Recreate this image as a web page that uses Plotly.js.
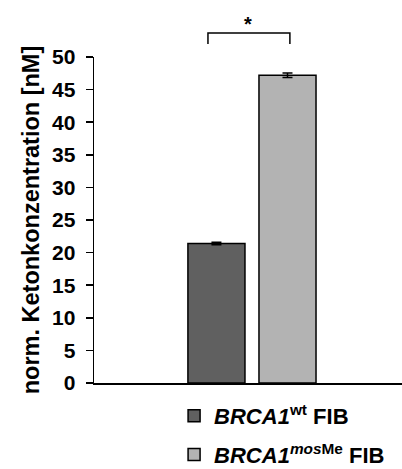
<!DOCTYPE html>
<html>
<head>
<meta charset="utf-8">
<script src="https://cdn.plot.ly/plotly-3.0.1.min.js"></script>
<style>html,body{margin:0;padding:0;background:#fff;}#chart{width:402px;height:469px;}</style>
</head>
<body>
<div id="chart"></div>
<script>
const categories = ['FIB'];
const seriesNames = ['<b><i>BRCA1</i><sup>wt</sup> FIB</b>', '<b><i>BRCA1<sup>mos</sup></i><sup>Me</sup> FIB</b>'];
const wtValues = [21.4];
const wtErrors = [0.2];
const mosValues = [47.2];
const mosErrors = [0.35];
const yTickVals = [0, 5, 10, 15, 20, 25, 30, 35, 40, 45, 50];
const yTickText = yTickVals.map(v => '<b>' + v + '</b>\u00a0');
const yTitle = '<b>norm. Ketonkonzentration [nM]</b>';
const sigLabel = '<b>*</b>';

const FONT = 'Liberation Sans, Arial, sans-serif';

const traces = [
  {
    type: 'bar', x: categories, y: wtValues, name: seriesNames[0], legendgroup: 'a',
    marker: {color: '#606060', line: {color: '#000', width: 1.5}},
    error_y: {type: 'data', array: wtErrors, color: '#000', thickness: 1.5, width: 5}
  },
  {
    type: 'bar', x: categories, y: mosValues, name: seriesNames[1], legendgroup: 'b',
    marker: {color: '#b3b3b3', line: {color: '#000', width: 1.5}},
    error_y: {type: 'data', array: mosErrors, color: '#000', thickness: 1.5, width: 5}
  }
];

const layout = {
  width: 402, height: 469,
  margin: {l: 94, r: 0, t: 57, b: 86, pad: 0, autoexpand: false},
  paper_bgcolor: '#fff', plot_bgcolor: '#fff',
  font: {family: FONT, color: '#000', size: 20},
  barmode: 'group', bargap: 0.445, bargroupgap: 0.197,
  showlegend: true,
  legend: {
    orientation: 'v', x: 0.26, xanchor: 'left', y: -0.0368, yanchor: 'top',
    font: {family: FONT, size: 22, color: '#000'},
    tracegroupgap: 7, bgcolor: 'rgba(0,0,0,0)'
  },
  xaxis: {
    type: 'category', range: [-0.617, 0.586], showticklabels: false,
    ticks: '', showline: true, linecolor: '#000', linewidth: 1.5,
    showgrid: false, zeroline: false, fixedrange: true
  },
  yaxis: {
    range: [0, 50], tickvals: yTickVals, ticktext: yTickText, ticks: 'outside', ticklen: 7,
    tickwidth: 1.5, tickcolor: '#000', showline: true, linecolor: '#000', linewidth: 1.5,
    showgrid: false, zeroline: false, automargin: false,
    tickfont: {family: FONT, size: 21, color: '#000'},
    title: {text: yTitle, standoff: 6, font: {family: FONT, size: 23.5, color: '#000'}}
  },
  shapes: [
    {type: 'path', xref: 'paper', yref: 'paper',
     path: 'M 0.370 1.040 L 0.370 1.074 L 0.636 1.074 L 0.636 1.040',
     line: {color: '#000', width: 1.5}},
    {type: 'line', xref: 'paper', yref: 'y', ysizemode: 'pixel', yanchor: 0,
     x0: 0, x1: 0, y0: 0, y1: -7, line: {color: '#000', width: 1.5}}
  ],
  annotations: [
    {xref: 'paper', yref: 'paper', x: 0.5, y: 1.14, text: sigLabel, showarrow: false,
     font: {family: FONT, size: 20, color: '#000'}}
  ]
};

Plotly.newPlot('chart', traces, layout, {displayModeBar: false, staticPlot: true});
</script>
</body>
</html>
